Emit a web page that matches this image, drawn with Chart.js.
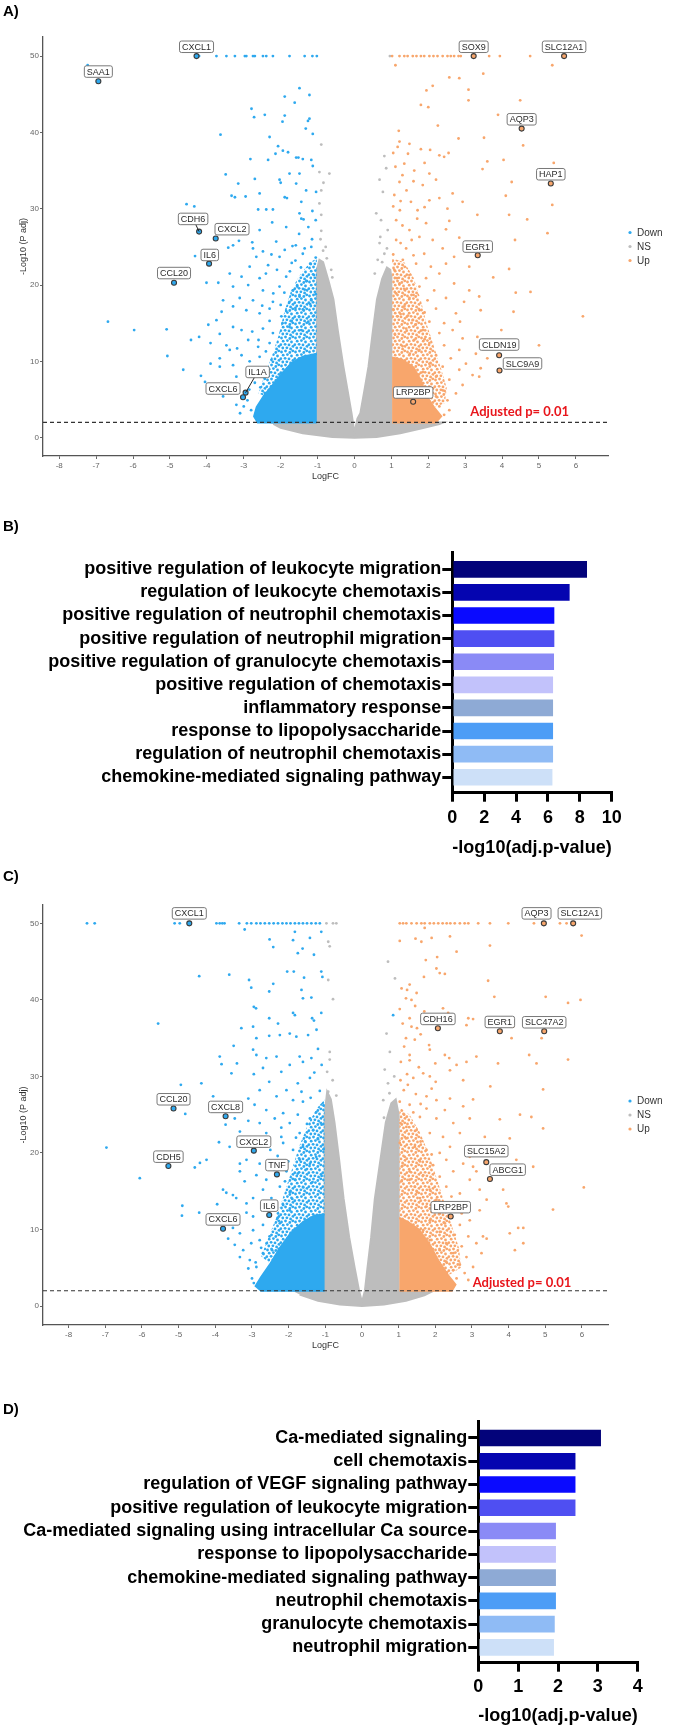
<!DOCTYPE html>
<html><head><meta charset="utf-8">
<script src="https://cdn.jsdelivr.net/npm/chart.js@4.4.1/dist/chart.umd.min.js"></script>
<style>
body{margin:0;background:#fff;width:675px;height:1729px;position:relative;overflow:hidden;font-family:'Liberation Sans',Arial,sans-serif}
canvas{position:absolute;left:0}
.pl{position:absolute;left:3px;font:bold 15px 'Liberation Sans',Arial,sans-serif;color:#000;line-height:17px}
</style></head><body>
<canvas id="cA" width="675" height="490" style="top:0;width:675px;height:490px"></canvas>
<canvas id="cB" width="675" height="380" style="top:490px;width:675px;height:380px"></canvas>
<canvas id="cC" width="675" height="490" style="top:870px;width:675px;height:490px"></canvas>
<canvas id="cD" width="675" height="369" style="top:1360px;width:675px;height:369px"></canvas>
<div class="pl" style="top:2px">A)</div>
<div class="pl" style="top:517px">B)</div>
<div class="pl" style="top:867px">C)</div>
<div class="pl" style="top:1400px">D)</div>
<script>
// ---------------- DATA ----------------
const volcanoXTicks = [-8,-7,-6,-5,-4,-3,-2,-1,0,1,2,3,4,5,6];
const volcanoYTicks = [0,10,20,30,40,50];
const legendLabels = ['Down','NS','Up'];
const thresholdP = 0.01;
const thresholdText = 'Adjusted p= 0.01';

// Panel A : labelled genes
const genesA = ['SAA1','CXCL1','CDH6','CXCL2','IL6','CCL20','IL1A','CXCL6','SOX9','SLC12A1','AQP3','HAP1','EGR1','CLDN19','SLC9A9','LRP2BP'];
const genesAx = [-6.94,-4.28,-4.21,-3.76,-3.94,-4.89,-2.95,-3.02,3.23,5.68,4.53,5.32,3.34,3.92,3.93,1.59];
const genesAy = [46.7,50.0,27.0,26.1,22.8,20.3,5.9,5.3,50,50,40.5,33.3,23.9,10.8,8.8,4.7];
const genesAdir = ['Down','Down','Down','Down','Down','Down','Down','Down','Up','Up','Up','Up','Up','Up','Up','Up'];

// Panel A : sparse points
const downA = [[-7.23,48.8],[-4.21,50],[-3.74,50],[-3.47,50],[-3.24,50],[-2.97,50],[-2.93,50],[-2.75,50],[-2.70,50],[-2.48,50],[-2.39,50],[-2.21,50],[-1.76,50],[-1.35,50],[-1.14,50],[-1.02,50],
[-1.49,45.8],[-1.22,44.9],[-1.89,44.7],[-1.62,43.9],[-2.79,43.1],[-2.72,42.0],[-2.43,42.3],[-1.89,42.2],[-1.95,41.4],[-1.22,41.8],[-1.26,41.5],[-1.32,40.5],[-1.13,39.8],[-3.63,39.7],[-2.30,39.4],[-2.07,38.2],[-1.94,37.6],[-1.80,37.4],[-2.14,37.2],[-1.58,36.7],[-1.52,36.7],[-1.40,36.5],[-1.17,36.4],[-2.82,36.5],[-2.34,36.4],[-1.13,35.6],[-3.49,34.5],[-1.76,34.6],[-1.49,34.6],[-2.70,33.9],[-2.03,33.8],[-2.00,33.4],[-3.15,33.3],[-1.58,33.3],[-1.04,32.2],[-1.31,32.4],[-3.33,31.7],[-3.24,31.5],[-2.95,31.6],[-2.57,32.0],[-1.89,31.5],[-1.83,31.4],[-1.44,30.9],[-4.55,30.6],[-4.34,30.3],[-2.61,29.9],[-2.39,29.9],[-2.21,29.9],[-1.49,29.4],[-1.14,29.7],[-1.44,28.7],[-1.38,28.6],[-2.23,28.2],[-1.85,27.6],[-2.57,27.2],[-3.13,25.8],[-3.29,25.2],[-3.42,24.9],[-2.77,25.6],[-2.12,25.7],[-1.68,25.1],[-1.59,25.2],[-2.75,24.8],[-2.48,24.4],[-2.25,24.0],[-2.03,23.7],[-1.89,24.6],[-4.32,23.8],[-2.66,23.7],[-1.40,24.1],[-1.17,25.0],[-2.34,22.6],[-2.84,22.4],[-3.38,21.5],[-3.06,21.1],[-2.57,20.9],[-1.85,21.1],[-4.01,20.3],[-3.69,20.3],[-3.29,19.8],[-2.88,20.0],[-2.48,19.3],[-2.03,19.8],[-1.67,19.3],[-1.35,19.4],[-3.11,18.3],[-2.75,18.0],[-3.56,18.0],[-2.21,17.8],[-1.76,17.8],[-1.49,18.5],[-1.17,18.0],[-3.60,16.5],[-3.29,17.2],[-2.93,16.7],[-2.57,16.3],[-2.30,16.9],[-1.98,15.9],[-3.96,14.8],[-3.74,15.4],[-5.09,14.2],[-3.65,13.6],[-3.29,14.5],[-3.06,14.1],[-2.77,13.9],[-2.48,14.3],[-2.21,13.7],[-1.76,14.5],[-1.44,14.1],[-4.21,13.2],[-4.43,12.8],[-3.90,12.4],[-3.47,12.1],[-3.18,11.7],[-2.88,12.8],[-2.61,11.9],[-2.30,12.4],[-5.07,10.7],[-3.38,11.5],[-3.06,10.8],[-3.65,10.4],[-3.90,9.7],[-3.65,9.3],[-3.29,9.5],[-2.84,10.0],[-2.57,10.6],[-4.64,8.9],[-4.16,8.1],[-4.05,7.3],[-3.20,8.0],[-2.88,8.9],[-3.38,6.7],[-3.56,5.4],[-3.20,4.3],[-6.68,15.2],[-5.97,14.1],
[-1.95,15.0],[-1.7,15.3],[-1.5,15.8],[-1.25,15.2],[-1.1,16.0],[-1.85,16.6],[-1.6,17.0],[-1.4,16.8],[-1.2,17.5],[-1.05,18.8],[-1.9,19.0],[-1.55,19.8],[-1.3,20.5],[-1.1,21.3],[-1.75,21.8],[-1.45,22.3],[-1.2,22.8],[-1.05,23.6],[-1.6,23.2],[-1.35,24.8],[-1.15,26.0],[-1.5,26.7],[-1.25,27.6],[-1.05,28.5],[-1.7,22.9],[-2.1,22.0],[-2.4,21.5],[-2.2,18.9],[-2.0,17.4],[-2.3,15.3],[-2.5,17.3],[-2.6,12.8],[-2.4,11.3],[-2.25,10.2],[-2.6,9.1],[-2.45,7.9],[-2.7,7.2],[-2.85,6.3],[-2.55,6.6],[-2.9,4.9],[-3.0,4.1],[-2.8,3.6],[-3.1,3.2]];
const nsA = [[-0.90,38.4],[-0.95,34.8],[-0.68,34.6],[-0.84,33.4],[-0.90,32.4],[-0.95,30.7],[-0.90,29.2],[-0.90,27.1],[-0.78,25.0],[-0.63,22.0],[0.81,36.9],[0.86,35.3],[0.68,33.8],[0.77,32.2],[0.59,29.4],[0.72,28.5],[0.90,27.2],[0.68,25.5],[0.81,24.1],[0.63,23.3],[0.96,50],[-0.85,24.5],[-0.75,23.5],[0.75,23.0],[0.88,24.8],[-0.92,26.0],[0.7,26.3],[0.55,21.5],[-0.6,21.0]];
const upA = [[1.02,50],[1.22,50],[1.35,50],[1.44,50],[1.58,50],[1.68,50],[1.80,50],[1.89,50],[2.03,50],[2.14,50],[2.25,50],[2.39,50],[2.52,50],[2.61,50],[2.70,50],[2.82,50],[2.88,50],[3.65,50],[3.94,50],[4.76,50],[1.11,48.8],[5.36,48.8],
[3.49,47.7],[2.57,47.2],[2.84,47.1],[2.12,46.1],[1.95,45.5],[3.09,45.6],[3.09,44.2],[4.49,44.2],[1.80,43.6],[2.0,43.3],[3.89,42.3],[2.26,40.9],[2.82,39.2],[3.51,39.3],[4.57,38.3],[1.22,38.8],[1.49,38.5],[1.17,38.1],[1.80,37.8],[2.05,37.7],[2.30,37.0],[2.55,37.3],[2.43,36.8],[3.60,36.2],[4.04,36.4],[3.47,35.2],[5.40,36.0],[1.35,35.9],[1.62,35.0],[1.11,35.5],[2.03,34.6],[2.21,33.8],[1.22,33.5],[1.85,33.1],[4.26,33.5],[2.66,32.0],[1.41,32.4],[1.08,31.8],[4.10,31.7],[1.53,30.9],[2.03,31.1],[2.30,31.4],[2.93,30.9],[5.36,30.5],[1.23,29.8],[1.71,29.8],[2.52,30.0],[3.33,29.2],[4.19,29.2],[4.68,28.6],[1.13,28.5],[1.94,28.1],[2.57,28.4],[1.49,27.2],[2.48,27.3],[5.23,26.8],[1.13,25.9],[1.76,26.3],[2.12,25.9],[2.84,26.2],[4.35,25.9],[1.40,24.8],[1.89,24.1],[2.39,24.8],[2.70,23.7],[1.31,23.3],[1.67,22.8],[2.07,22.4],[2.48,22.8],[3.11,22.4],[4.19,22.1],[1.08,22.0],[1.49,21.3],[1.94,20.9],[2.30,21.5],[3.76,21.0],[1.22,20.2],[1.76,19.8],[2.16,19.3],[2.70,20.2],[3.11,19.3],[4.37,19.0],[4.77,19.1],[1.13,18.9],[1.49,18.3],[1.98,18.0],[2.48,18.3],[2.97,17.8],[3.38,18.5],[1.35,17.2],[1.76,16.7],[2.21,16.9],[2.75,16.3],[3.42,16.7],[4.31,16.5],[6.19,15.9],[1.17,15.9],[1.58,15.4],[2.03,15.2],[2.43,15.0],[2.86,15.2],[3.98,14.1],[1.40,14.3],[1.85,14.1],[2.30,13.7],[2.66,14.1],[2.93,13.0],[3.33,13.2],[5.0,12.1],[1.62,12.8],[2.03,12.4],[2.43,12.1],[2.84,11.5],[3.29,11.0],[3.60,10.4],[1.76,11.5],[2.21,10.8],[2.61,10.4],[3.02,9.7],[3.42,9.1],[2.03,9.7],[2.39,9.3],[2.84,8.9],[3.20,8.2],[1.85,8.6],[2.21,8.0],[2.57,7.6],[2.93,6.9],[3.38,8.0],[2.03,6.7],[2.39,6.2],[2.75,5.8],[2.21,5.4],[2.52,4.9],[2.03,4.5],[2.30,4.1],[2.57,3.6],[2.12,3.2],[2.43,3.0],
[1.1,13.5],[1.3,12.0],[1.5,11.0],[1.05,16.8],[1.25,16.2],[1.45,16.0],[1.65,14.8],[1.9,12.9],[1.15,20.9],[1.35,19.5],[1.6,18.7],[1.9,16.4],[1.05,24.0],[1.25,25.5],[1.55,25.9],[1.6,23.9],[1.3,27.8],[1.7,28.7],[1.05,30.3],[1.9,30.2],[1.25,31.0],[1.6,33.6],[1.3,34.4],[1.45,37.2],[1.9,36.0],[1.05,37.3],[1.2,40.2]];
// Panel A : outlines of the packed point clouds (solid = fully packed, mid = half packed)
const nsCloudA = [[-2.3,2.0],[-1.02,2.0],[-1.02,22.0],[-0.95,23.3],[-0.85,23.0],[-0.7,20.5],[-0.57,18.1],[-0.45,14],[-0.3,9.3],[-0.18,6],[-0.08,3.2],[0,0.6],[0.08,2.5],[0.16,3.2],[0.28,6.5],[0.38,9.3],[0.5,14],[0.61,18.1],[0.75,20.8],[0.88,22.3],[0.97,22.0],[1.0,21],[1.0,2.0],[2.4,2.0],[2.3,1.8],[1.8,1.2],[1.24,0.57],[0.6,0.1],[0,0.0],[-0.6,0.1],[-1.4,0.57],[-2.0,1.3],[-2.2,1.8]];
const downCloudA = [[-1.02,2],[-2.62,2],[-2.72,2.8],[-2.65,4],[-2.45,5.5],[-2.2,7],[-1.95,8.5],[-1.7,9.8],[-1.4,10.6],[-1.02,11]];
const downMidA = [[-1.02,10.8],[-1.4,10.5],[-1.7,9.7],[-1.95,8.4],[-2.2,7],[-2.45,5.5],[-2.6,5.8],[-2.45,8],[-2.25,10.5],[-2.05,13.5],[-1.9,16.5],[-1.7,19.5],[-1.45,21.5],[-1.2,23],[-1.02,23.5]];
const upCloudA = [[1.02,2],[2.2,2],[2.35,2.8],[2.15,4],[1.95,5.5],[1.8,7.5],[1.6,9.2],[1.3,10.2],[1.02,10.5]];
const upMidA = [[1.02,10.3],[1.3,10.1],[1.6,9.1],[1.8,7.4],[1.95,5.5],[2.15,4],[2.45,4.5],[2.5,6.5],[2.35,9],[2.15,12],[1.95,15],[1.8,18],[1.6,21],[1.35,23],[1.02,23.5]];

// Panel C : labelled genes
const genesC = ['CXCL1','CCL20','CXCL8','CXCL2','CDH5','TNF','IL6','CXCL6','AQP3','SLC12A1','CDH16','EGR1','SLC47A2','SLC15A2','ABCG1','LRP2BP'];
const genesCx = [-4.71,-5.14,-3.72,-2.95,-5.28,-2.32,-2.53,-3.79,4.96,5.76,2.07,3.76,4.97,3.39,3.49,2.42];
const genesCy = [50,25.8,24.8,20.3,18.3,17.2,11.9,10.1,50,50,36.3,35.9,35.9,18.8,16.6,11.7];
const genesCdir = ['Down','Down','Down','Down','Down','Down','Down','Down','Up','Up','Up','Up','Up','Up','Up','Up'];

// Panel C : sparse points
const downC = [[-7.50,50],[-7.29,50],[-5.11,50],[-4.97,50],[-3.97,50],[-3.88,50],[-3.81,50],[-3.75,50],[-3.35,50],[-3.14,50],[-3.02,50],[-2.88,50],[-2.77,50],[-2.65,50],[-2.53,50],[-2.41,50],[-2.29,50],[-2.17,50],[-2.06,50],[-1.95,50],[-1.83,50],[-1.72,50],[-1.61,50],[-1.50,50],[-1.38,50],[-1.26,50],[-1.15,50],
[-3.20,49.2],[-1.83,48.9],[-1.42,48.1],[-1.11,48.9],[-2.52,47.9],[-1.88,47.8],[-2.42,46.9],[-1.62,46.7],[-1.31,45.9],[-1.75,46.1],[-4.44,43.1],[-3.62,43.3],[-2.04,43.7],[-1.86,43.7],[-1.58,42.9],[-1.08,43.0],[-1.11,43.7],[-3.08,42.6],[-2.42,42.1],[-3.02,41.6],[-1.65,41.3],[-2.53,41.1],[-1.38,40.3],[-1.61,40.2],[-1.11,38.3],[-2.95,39.1],[-2.89,38.9],[-1.88,38.3],[-1.83,38.0],[-1.36,37.6],[-1.31,37.3],[-2.53,37.6],[-5.56,36.9],[-2.29,36.9],[-3.29,36.3],[-2.97,36.5],[-1.97,35.6],[-1.79,35.2],[-1.47,35.4],[-1.24,36.1],[-2.88,35.0],[-2.53,35.3],[-2.24,35.4],[-3.50,34.0],[-3.88,32.6],[-3.83,31.6],[-2.97,33.5],[-2.88,32.8],[-2.61,32.4],[-2.33,32.6],[-1.70,32.6],[-1.38,32.4],[-1.20,33.6],[-3.41,31.7],[-1.97,31.5],[-1.61,31.9],[-2.70,31.1],[-2.20,30.6],[-3.56,30.4],[-2.95,30.3],[-1.42,29.8],[-4.38,29.1],[-4.94,28.9],[-2.53,29.3],[-2.06,28.2],[-1.75,29.1],[-2.79,28.2],[-4.06,27.4],[-3.10,27.1],[-2.33,27.4],[-1.88,26.9],[-1.61,26.7],[-2.93,26.3],[-2.61,25.6],[-2.15,25.2],[-4.82,25.1],[-3.72,23.7],[-3.47,24.5],[-3.10,24.2],[-2.79,23.9],[-2.38,24.5],[-1.97,23.9],[-1.42,24.5],[-3.33,22.8],[-2.61,22.6],[-2.20,22.1],[-1.70,22.6],[-1.33,23.0],[-3.90,21.4],[-3.61,20.8],[-2.15,21.3],[-1.88,20.4],[-1.61,20.8],[-6.97,20.7],[-4.24,19.1],[-4.42,18.7],[-4.56,18.1],[-3.33,18.6],[-3.15,19.1],[-2.79,18.6],[-2.01,18.9],[-1.70,19.1],[-1.42,18.6],[-3.33,17.6],[-2.88,17.1],[-2.61,16.5],[-2.06,17.6],[-1.83,16.5],[-6.06,16.7],[-3.20,16.3],[-2.70,15.2],[-2.24,15.6],[-1.97,14.9],[-3.79,15.2],[-3.70,14.8],[-3.52,14.5],[-3.43,14.1],[-3.15,13.4],[-2.97,14.1],[-2.47,14.1],[-2.15,13.2],[-3.95,13.3],[-4.90,13.1],[-4.44,12.2],[-4.91,11.8],[-3.65,11.7],[-3.15,12.2],[-2.97,11.7],[-2.29,12.1],[-1.97,12.5],[-3.97,10.8],[-3.52,10.2],[-3.33,9.5],[-2.97,9.9],[-2.70,10.6],[-2.24,10.8],[-3.65,8.8],[-3.47,8.0],[-3.24,7.3],[-3.02,8.2],[-2.79,8.6],[-2.52,9.1],[-3.33,6.4],[-3.06,6.0],[-2.88,5.1],[-2.70,6.9],[-3.10,4.9],[-2.61,4.5],[0.85,38.0],
[-1.9,14.0],[-1.6,15.5],[-1.35,16.2],[-1.1,17.0],[-1.75,17.3],[-1.5,17.9],[-1.25,19.5],[-1.05,20.5],[-1.55,21.5],[-1.2,21.8],[-1.8,22.0],[-1.1,23.7],[-1.5,23.8],[-1.25,25.3],[-1.75,25.0],[-1.05,26.2],[-1.4,27.2],[-1.15,28.1],[-1.65,28.0],[-1.3,30.5],[-1.1,31.5],[-2.3,19.6],[-2.5,20.4],[-2.2,23.3],[-2.4,17.8],[-2.1,16.3],[-2.45,12.9],[-2.3,11.5],[-2.6,8.2],[-2.75,7.6],[-2.45,7.3],[-2.9,5.7],[-3.0,3.6],[-2.95,3.0]];
const nsC = [[-0.97,50],[-0.79,50],[-0.70,50],[-0.92,47.6],[-0.88,47.0],[-0.92,42.6],[-0.79,40.1],[-0.88,33.2],[-0.88,32.2],[-0.92,28.0],[-0.88,26.9],[0.71,45.0],[0.90,42.8],[0.67,35.6],[0.76,33.2],[0.62,30.9],[0.71,29.1],[0.58,26.9],[0.85,26.1],[-0.8,29.5],[-0.95,30.6],[-0.7,27.5],[0.75,27.8],[0.88,30.0],[0.6,24.6]];
const upC = [[1.03,50],[1.12,50],[1.21,50],[1.35,50],[1.49,50],[1.62,50],[1.71,50],[1.85,50],[1.96,50],[2.08,50],[2.20,50],[2.31,50],[2.41,50],[2.53,50],[2.67,50],[2.80,50],[2.90,50],[3.17,50],[3.49,50],[3.99,50],[4.69,50],[5.40,50],[5.58,50],[5.99,48.4],
[1.71,49.4],[1.03,47.7],[1.46,48.0],[1.62,47.6],[1.90,48.1],[2.40,48.3],[3.49,47.1],[2.58,46.3],[2.05,45.6],[1.74,45.2],[2.03,44.1],[2.12,43.5],[2.26,43.4],[3.44,42.5],[1.69,43.0],[1.30,42.0],[1.08,41.5],[1.23,41.3],[1.49,40.9],[3.61,40.4],[5.01,40.4],[5.62,39.6],[5.96,40.0],[1.20,40.2],[1.35,40.0],[1.03,38.8],[2.21,38.9],[2.35,38.3],[1.30,37.6],[1.11,36.9],[1.35,36.5],[1.50,36.3],[2.90,37.6],[3.03,37.5],[2.85,36.7],[4.12,36.5],[4.90,35.0],[4.08,35.0],[1.44,34.8],[1.83,34.1],[1.85,33.5],[2.26,32.8],[1.30,32.8],[1.06,31.9],[1.30,32.1],[2.00,31.7],[2.38,32.4],[2.58,31.5],[2.85,31.9],[3.12,32.6],[3.71,31.7],[4.56,32.8],[4.76,31.7],[5.62,32.2],[1.23,30.3],[1.40,29.8],[1.67,30.4],[1.85,30.0],[2.01,29.3],[2.40,30.8],[2.76,29.5],[3.50,28.7],[4.94,28.3],[1.14,28.2],[1.47,27.7],[1.76,27.4],[2.03,26.9],[2.40,27.1],[3.03,27.0],[1.03,26.7],[1.30,26.3],[1.76,25.8],[2.26,25.6],[2.76,26.1],[1.58,24.7],[2.03,24.5],[2.49,23.9],[2.94,24.5],[3.76,24.4],[4.31,25.0],[4.62,24.7],[4.94,23.2],[1.21,23.4],[1.49,23.0],[1.85,22.6],[2.21,22.1],[2.67,22.6],[3.35,22.1],[4.03,21.9],[1.03,21.3],[1.44,20.8],[1.76,20.4],[2.12,20.0],[2.40,20.8],[2.94,19.5],[1.17,19.5],[1.58,18.9],[1.94,18.4],[2.30,19.1],[2.76,18.6],[3.03,18.2],[4.21,19.1],[4.67,18.2],[1.30,17.6],[1.67,17.1],[2.12,16.9],[2.49,17.6],[2.94,16.5],[3.12,17.6],[6.05,15.5],[1.08,16.3],[1.44,15.6],[1.85,15.2],[2.30,15.6],[2.67,14.7],[3.21,15.2],[3.85,15.2],[1.58,14.1],[2.03,13.9],[2.44,14.3],[2.85,13.4],[3.40,13.9],[3.94,13.4],[3.99,13.0],[5.21,12.6],[1.76,13.0],[2.12,12.1],[2.72,12.1],[3.21,12.5],[1.85,11.2],[2.26,10.8],[2.67,10.6],[2.94,11.2],[1.67,9.9],[2.12,9.7],[2.53,9.3],[2.90,9.1],[3.30,9.1],[4.03,9.5],[4.26,10.2],[4.40,10.2],[1.85,8.6],[2.30,8.2],[2.72,7.8],[3.12,8.2],[3.40,8.8],[2.12,7.3],[2.49,6.9],[2.85,6.4],[3.26,6.9],[4.17,7.3],[4.40,8.2],[2.30,5.8],[2.67,5.4],[3.03,5.1],[2.49,4.7],[2.80,4.3],[2.58,3.6],[2.90,3.4],
[1.1,18.3],[1.3,16.5],[1.5,14.9],[1.2,21.9],[1.6,21.5],[1.9,19.8],[1.05,23.9],[1.4,25.3],[1.15,25.0],[1.6,26.4],[1.9,28.4],[1.25,28.9],[1.05,29.5],[1.55,31.2],[1.15,33.9],[1.6,35.5],[1.9,36.9],[1.2,35.0],[1.7,38.5],[1.45,39.2]];
const nsCloudC = [[-1.9,2],[-1.02,2],[-1.02,25],[-0.95,28],[-0.85,27],[-0.75,24],[-0.62,19],[-0.5,14],[-0.35,9],[-0.2,5],[-0.08,2],[0,0.5],[0.08,2],[0.15,5],[0.25,9],[0.35,14],[0.5,19],[0.65,24],[0.8,26.5],[0.92,27],[1.0,25],[1.0,2],[1.95,2],[1.7,1.4],[1.2,0.7],[0.6,0.2],[0,0.0],[-0.6,0.2],[-1.2,0.7],[-1.7,1.5]];
const downCloudC = [[-1.02,2],[-2.75,2],[-2.9,2.6],[-2.75,3.8],[-2.5,5.5],[-2.25,7.5],[-1.95,9.5],[-1.6,11],[-1.3,11.8],[-1.02,12]];
const downMidC = [[-1.02,11.8],[-1.3,11.6],[-1.6,10.9],[-1.95,9.4],[-2.25,7.5],[-2.5,5.5],[-2.75,6.5],[-2.55,9],[-2.3,12],[-2.1,15],[-1.9,18],[-1.7,21],[-1.45,24],[-1.2,26],[-1.02,27]];
const upCloudC = [[1.02,2],[2.45,2],[2.55,2.8],[2.35,4],[2.1,5.8],[1.85,8],[1.55,10],[1.25,11],[1.02,11.5]];
const upMidC = [[1.02,11.3],[1.25,10.9],[1.55,9.9],[1.85,7.9],[2.1,5.8],[2.35,4],[2.7,5],[2.65,7.5],[2.45,10.5],[2.25,13.5],[2.05,16.5],[1.85,19.5],[1.6,22.5],[1.3,25],[1.02,26]];

// Panel B / D : enrichment bars
const categoriesB = ['positive regulation of leukocyte migration','regulation of leukocyte chemotaxis','positive regulation of neutrophil chemotaxis','positive regulation of neutrophil migration','positive regulation of granulocyte chemotaxis','positive regulation of chemotaxis','inflammatory response','response to lipopolysaccharide','regulation of neutrophil chemotaxis','chemokine-mediated signaling pathway'];
const valuesB = [8.43,7.34,6.38,6.38,6.36,6.30,6.30,6.30,6.30,6.26];
const ticksB = [0,2,4,6,8,10];
const categoriesD = ['Ca-mediated signaling','cell chemotaxis','regulation of VEGF signaling pathway','positive regulation of leukocyte migration','Ca-mediated signaling using intracellular Ca source','response to lipopolysaccharide','chemokine-mediated signaling pathway','neutrophil chemotaxis','granulocyte chemotaxis','neutrophil migration'];
const valuesD = [3.07,2.43,2.43,2.43,1.94,1.94,1.94,1.94,1.91,1.89];
const ticksD = [0,1,2,3,4];
const barAxisTitle = '-log10(adj.p-value)';

// ---------------- STYLE ----------------
const F = "'Liberation Sans', Arial, sans-serif";
const COL = {Down:'#2ea9ef', NS:'#bdbdbd', Up:'#f8a66c'};
const barColors = ['#03037a','#0505b0','#0a0aff','#4f4ff2','#8a8af6','#c2c2fb','#8eaad5','#4c9df6','#8fbbf5','#cde0f8'];
const offA = [[0,-9.7],[0,-9.3],[-6,-12.7],[16.3,-9.3],[0.7,-8.7],[0,-9.7],[12,-20.7],[-20,-8.7],[0,-9.3],[0,-9.3],[0,-9.3],[0,-9.3],[0,-8.7],[0,-10.7],[23,-7],[0,-9.3]];
const leadA = [0,0,1,0,0,0,1,0,0,0,0,0,0,0,0,0];
const offC = [[0,-10],[0,-9.3],[0,-9.3],[0,-9],[0,-9.3],[0,-9.3],[0,-9.3],[0,-9.3],[-7.3,-10],[6.7,-10],[0,-9.3],[0,-9.3],[0,-9],[0,-11],[17.7,-9.3],[0,-9.3]];
const leadC = new Array(16).fill(0);

// irregular dotted texture used for the half-packed parts of the clouds
const TILE = 14;
const tileDots = [[1.5,2],[5.5,1],[9.8,2.5],[12.7,0.8],[3.2,5.2],[7.4,4.6],[11.5,6],[0.8,8.7],[5.1,8.3],[9,8.9],[13,10.3],[2.8,12],[6.9,11.8],[10.6,12.9]];
function dotPattern(col) {
  const c = document.createElement('canvas'); c.width = TILE; c.height = TILE;
  const g = c.getContext('2d'); g.fillStyle = col;
  tileDots.forEach(p => {
    for (let ox = -TILE; ox <= TILE; ox += TILE) for (let oy = -TILE; oy <= TILE; oy += TILE) {
      g.beginPath(); g.arc(p[0] + ox, p[1] + oy, 1.4, 0, Math.PI*2); g.fill();
    }
  });
  return g.createPattern(c, 'repeat');
}
const MID = {Down:dotPattern(COL.Down), Up:dotPattern(COL.Up)};

const xy = a => a.map(p => ({x:p[0], y:p[1]}));

const annot = {
  id:'annot',
  afterDatasetsDraw(chart, args, o) {
    if (!o || !o.genes) return;
    const {ctx, chartArea} = chart, X = chart.scales.x, Y = chart.scales.y;
    ctx.save();
    ctx.font = '9px ' + F;
    o.genes.forEach((g,i) => {
      const px = X.getPixelForValue(o.gx[i]), py = Y.getPixelForValue(o.gy[i]);
      const cx = px + o.off[i][0], cy = py + o.off[i][1];
      const w = ctx.measureText(g).width + 5, h = 11.5;
      if (o.lead[i]) {
        ctx.strokeStyle = '#222'; ctx.lineWidth = 1;
        ctx.beginPath(); ctx.moveTo(px, py); ctx.lineTo(cx, cy); ctx.stroke();
      }
      ctx.fillStyle = '#fff'; ctx.strokeStyle = '#6a6a6a'; ctx.lineWidth = 0.9;
      ctx.beginPath(); ctx.roundRect(cx - w/2, cy - h/2, w, h, 2); ctx.fill(); ctx.stroke();
      ctx.fillStyle = '#2b2b2b'; ctx.textAlign = 'center'; ctx.textBaseline = 'middle';
      ctx.fillText(g, cx, cy + 0.5);
    });
    ctx.font = 'bold 13px Lato, ' + F;
    ctx.fillStyle = '#e8151b'; ctx.textAlign = 'left'; ctx.textBaseline = 'middle';
    ctx.fillText(thresholdText, X.getPixelForValue(o.thrPos[0]), Y.getPixelForValue(o.thrPos[1]));
    const lx = chartArea.right + 22, ly = (chartArea.top + chartArea.bottom)/2 - 14;
    ctx.font = '10px ' + F;
    legendLabels.forEach((l,i) => {
      ctx.fillStyle = COL[l];
      ctx.beginPath(); ctx.arc(lx, ly + i*14, 1.6, 0, Math.PI*2); ctx.fill();
      ctx.fillStyle = '#333'; ctx.textAlign = 'left'; ctx.textBaseline = 'middle';
      ctx.fillText(l, lx + 7, ly + i*14 + 0.5);
    });
    ctx.restore();
  }
};

function cloud(pts, fillCol, lineCol) {
  return {type:'line', data:xy(pts), fill:'shape', backgroundColor:fillCol, borderColor:lineCol || 'rgba(0,0,0,0)', borderWidth:lineCol ? 2 : 0, pointRadius:0, tension:0};
}

function volcano(id, d) {
  const thr = -Math.log10(thresholdP);
  const pts = d.gx.map((x,i) => ({x, y:d.gy[i]}));
  new Chart(document.getElementById(id), {
    type:'scatter',
    data:{datasets:[
      {data:pts, pointRadius:2.5, backgroundColor:d.dir.map(k=>COL[k]), borderColor:'#3a3a3a', borderWidth:1.1},
      {type:'line', data:[{x:d.xmin,y:thr},{x:d.xmax,y:thr}], borderColor:'#333', borderWidth:1.1, borderDash:[4,3], pointRadius:0, fill:false},
      {data:xy(d.up), pointRadius:1.4, borderWidth:0, backgroundColor:COL.Up},
      {data:xy(d.down), pointRadius:1.4, borderWidth:0, backgroundColor:COL.Down},
      {data:xy(d.ns), pointRadius:1.4, borderWidth:0, backgroundColor:COL.NS},
      cloud(d.upCloud, COL.Up, COL.Up),
      cloud(d.downCloud, COL.Down, COL.Down),
      cloud(d.upMid, MID.Up, null),
      cloud(d.downMid, MID.Down, null),
      cloud(d.nsCloud, COL.NS, COL.NS)
    ]},
    options:{
      responsive:false, animation:false, events:[],
      layout:{padding:{left:0, right:675-608, top:d.top, bottom:d.bottom}},
      plugins:{legend:{display:false}, tooltip:{enabled:false},
        annot:{genes:d.genes, gx:d.gx, gy:d.gy, off:d.off, lead:d.lead, thrPos:d.thrPos}},
      scales:{
        x:{type:'linear', min:d.xmin, max:d.xmax,
          afterBuildTicks:s=>{s.ticks = volcanoXTicks.map(v=>({value:v}));},
          afterFit:s=>{s.height = 34; s.paddingLeft = 0; s.paddingRight = 0;},
          grid:{drawOnChartArea:false, drawTicks:true, tickLength:3, color:'#666', lineWidth:1},
          border:{display:true, color:'#555', width:1.3},
          ticks:{font:{size:8, family:F}, color:'#666', padding:1.5, maxRotation:0, autoSkip:false},
          title:{display:true, text:'LogFC', font:{size:9, family:F}, color:'#333', padding:{top:0, bottom:8.5}}},
        y:{type:'linear', min:d.ymin, max:d.ymax,
          afterBuildTicks:s=>{s.ticks = volcanoYTicks.map(v=>({value:v}));},
          afterFit:s=>{s.width = 43; s.paddingTop = 0; s.paddingBottom = 0;},
          grid:{drawOnChartArea:false, drawTicks:true, tickLength:3, color:'#666', lineWidth:1},
          border:{display:true, color:'#555', width:1.3},
          ticks:{font:{size:8, family:F}, color:'#666', padding:1, autoSkip:false},
          title:{display:true, text:'-Log10 (P adj)', font:{size:9, family:F}, color:'#333', padding:{top:18, bottom:0}}}
      }
    },
    plugins:[annot]
  });
}

function bars(id, cats, vals, d) {
  new Chart(document.getElementById(id), {
    type:'bar',
    data:{datasets:[{data:vals.map((v,i)=>({x:v, y:i})), backgroundColor:barColors, borderWidth:0, barThickness:16}]},
    options:{
      indexAxis:'y', responsive:false, animation:false, events:[],
      layout:{padding:{left:0, right:d.right, top:d.top, bottom:0}},
      plugins:{legend:{display:false}, tooltip:{enabled:false}},
      scales:{
        y:{type:'linear', reverse:true, min:d.ymin, max:d.ymax, offset:false,
          afterBuildTicks:s=>{s.ticks = cats.map((c,i)=>({value:i}));},
          afterFit:s=>{s.width = d.left; s.paddingTop = 0; s.paddingBottom = 0;},
          ticks:{callback:v=>cats[v], font:{family:F, size:18, weight:'bold'}, color:'#000', padding:1, autoSkip:false},
          grid:{drawOnChartArea:false, drawTicks:true, tickLength:10, lineWidth:3, color:'#000', offset:false},
          border:{display:true, width:3, color:'#000'}},
        x:{type:'linear', min:0, max:d.xmax,
          afterBuildTicks:s=>{s.ticks = d.ticks.map(v=>({value:v}));},
          afterFit:s=>{s.height = d.axisH; s.paddingLeft = 0; s.paddingRight = 0;},
          ticks:{font:{family:F, size:18, weight:'bold'}, color:'#000', padding:d.tickPad, maxRotation:0, autoSkip:false},
          grid:{drawOnChartArea:false, drawTicks:true, tickLength:9, lineWidth:3, color:'#000'},
          border:{display:true, width:3, color:'#000'},
          title:{display:true, text:barAxisTitle, font:{family:F, size:19, weight:'bold'}, color:'#000', padding:{top:0, bottom:d.titlePad}}}
      }
    }
  });
}

volcano('cA', {genes:genesA, gx:genesAx, gy:genesAy, dir:genesAdir, off:offA, lead:leadA,
  up:upA, down:downA, ns:nsA, upCloud:upCloudA, downCloud:downCloudA, upMid:upMidA, downMid:downMidA, nsCloud:nsCloudA,
  xmin:-8.44, xmax:6.87, ymin:-2.4, ymax:52.5, top:37, bottom:0, thrPos:[3.14,3.4]});
volcano('cC', {genes:genesC, gx:genesCx, gy:genesCy, dir:genesCdir, off:offC, lead:leadC,
  up:upC, down:downC, ns:nsC, upCloud:upCloudC, downCloud:downCloudC, upMid:upMidC, downMid:downMidC, nsCloud:nsCloudC,
  xmin:-8.70, xmax:6.71, ymin:-2.48, ymax:52.4, top:35, bottom:1, thrPos:[3.02,2.97]});
bars('cB', categoriesB, valuesB, {left:452.3, right:63.3, top:62.7, ymin:-0.72, ymax:9.67, xmax:10, ticks:ticksB, axisH:77.3, tickPad:5.5, titlePad:11.3});
bars('cD', categoriesD, valuesD, {left:478.3, right:37.3, top:61, ymin:-0.73, ymax:9.66, xmax:4, ticks:ticksD, axisH:66.3, tickPad:4.5, titlePad:1.6});
</script>
</body></html>
